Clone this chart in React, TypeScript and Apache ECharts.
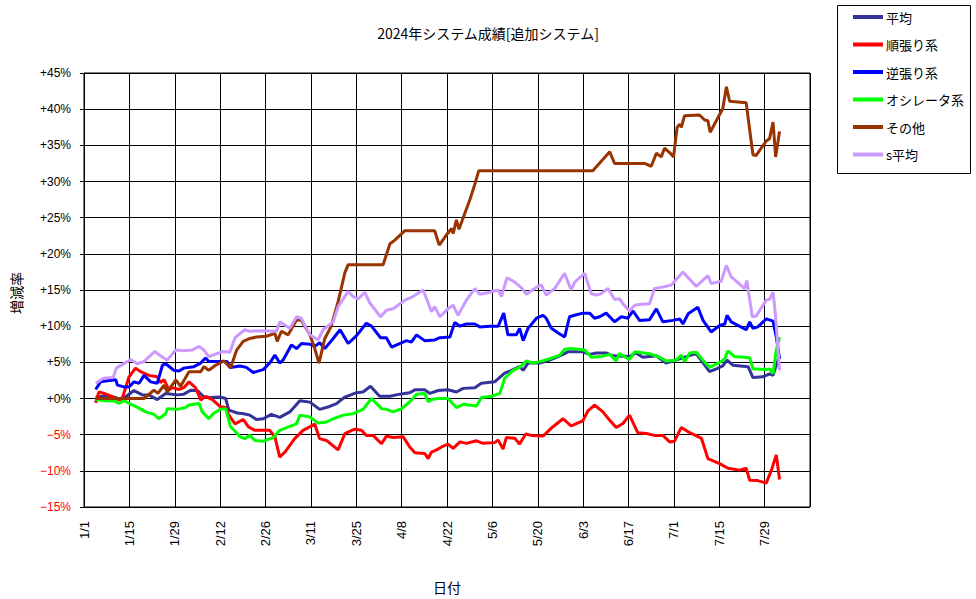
import React, { useEffect, useRef } from "react";
import * as echarts from "echarts";

// x values are days counted from 2024-01-01 (day 0 = 1/1)
const titleText = "2024年システム成績[追加システム]";
const seriesNames = ["平均", "順張り系", "逆張り系", "オシレータ系", "その他", "s平均"];
const seriesColors = ["#333399", "#ff0000", "#0000ff", "#00ff00", "#993300", "#cc99ff"];

const heikin: number[][] = [
  [3.6,0.2],[6,0.3],[9.8,0.15],[10.8,-0.2],[12.8,0.2],[15.4,1.1],[18,0.5],[20,0.5],[22.6,-0.15],[25.2,0.7],[28.8,0.5],[30.8,0.6],[32.9,1.15],[35,1.1],[37,0.2],[39,0.15],[42,0.2],[43.7,0],[44.7,-1.6],[47.3,-2.0],[49.3,-2.1],[51.2,-2.3],[53.2,-2.9],[55.3,-2.8],[57.8,-2.2],[60.4,-2.6],[63.5,-1.85],[66.6,-0.3],[69.7,-0.5],[72.7,-1.5],[75.8,-1.1],[77.9,-0.7],[80.5,0.2],[84.1,0.8],[86.1,0.9],[88.4,1.7],[91.2,0.3],[94.4,0.3],[97.4,0.6],[100.5,0.8],[102.1,1.2],[105.1,1.2],[106.7,0.7],[109.3,1.1],[112.3,1.2],[114.9,0.9],[117,1.4],[120.6,1.5],[122.6,2.1],[126.7,2.3],[129.8,3.5],[131.9,3.9],[134.4,4.4],[135.5,3.9],[137,4.9],[140.6,4.9],[143.7,5.3],[147.3,6.0],[149.3,6.45],[153.9,6.45],[156,6.1],[158.1,6.3],[161.1,6.3],[163.2,5.9],[168.3,5.8],[170.4,6.3],[172.4,5.7],[176.6,5.9],[179.6,4.9],[182.7,5.3],[184.8,5.65],[188.9,6.2],[193,3.7],[195.1,4.1],[197.1,4.5],[198.4,5.3],[200.2,4.6],[204.9,4.4],[206.4,2.9],[209.5,3.0],[211.5,3.4],[212.6,3.2],[214.1,5.3],[214.6,5.8]
];

const junbari: number[][] = [
  [3.6,-0.6],[4.6,0.9],[6.2,0.7],[9.2,0.2],[10.8,-0.15],[11.8,0],[13.9,3.0],[15.9,4.2],[17.5,3.7],[20,3.2],[22.6,3.0],[23.6,2.2],[24.7,2.6],[26.2,1.15],[27.2,1.5],[29.3,1.25],[30.8,1.5],[32.4,2.3],[34.4,1.5],[36,-0.2],[37.5,0.3],[39.6,-0.15],[42.1,-1.15],[43.7,-1.25],[44.7,-2.3],[46.6,-3.5],[49.1,-2.9],[50.7,-3.9],[52.7,-4.4],[57.3,-4.4],[58.9,-5.3],[60.4,-8.1],[62,-7.4],[65,-5.55],[67.6,-4.4],[71.2,-3.55],[72.7,-5.55],[74.8,-5.8],[78.4,-7.1],[80.5,-4.85],[83.5,-4.25],[85.6,-4.4],[87.1,-5.1],[89.2,-5.1],[91.8,-6.25],[93.3,-5.2],[95.4,-5.4],[98.5,-5.3],[100.5,-6.7],[102.1,-7.5],[105.1,-7.6],[106.2,-8.3],[107.2,-7.4],[108.8,-7.1],[110.3,-6.7],[112.3,-6.3],[113.9,-6.9],[116,-6.0],[118,-6.2],[121.1,-5.85],[123.1,-6.2],[126.7,-6.1],[127.8,-5.75],[129.3,-7.0],[130.3,-5.4],[132.9,-5.5],[134.4,-6.3],[136.3,-4.9],[138,-5.1],[141.6,-5.2],[144.7,-3.9],[147.8,-2.8],[150.3,-3.8],[153.9,-3.1],[155.5,-1.7],[157.5,-0.9],[160.1,-1.85],[162.2,-3.0],[164.2,-4.0],[166.3,-3.45],[168.3,-2.3],[170.9,-4.75],[173.5,-4.85],[176,-5.1],[178.6,-5.1],[180.7,-6.0],[182.2,-5.9],[184.3,-4.0],[186.4,-4.6],[190.5,-5.5],[192.5,-8.3],[196.1,-9.0],[198.7,-9.65],[202.3,-9.9],[204.3,-9.65],[205.4,-11.3],[207.9,-11.35],[210.5,-11.7],[212.1,-9.9],[213.6,-7.8],[214.6,-11.2]
];

const gyakubari: number[][] = [
  [3.6,1.25],[5.1,2.3],[7.2,2.45],[9.8,2.6],[10.3,1.85],[12.3,1.6],[13.9,1.6],[15.4,2.3],[17,2.1],[18.5,3.2],[20.6,2.3],[22.6,2.1],[24.2,4.6],[25.2,4.8],[27.7,3.9],[29.3,3.8],[30.8,4.2],[33.9,4.4],[36,4.9],[37.5,5.6],[38.5,5.1],[41.1,5.1],[44.2,5.1],[45.2,4.3],[48.1,4.5],[50.1,4.3],[52.2,3.6],[55.3,4.0],[57.3,4.9],[58.9,6.0],[60.4,4.9],[61.4,5.3],[64,7.4],[65.6,6.9],[67.1,7.6],[69.7,7.5],[71.2,7.2],[72.7,7.7],[74.3,6.9],[76.9,8.3],[79,9.5],[81.5,7.6],[84.1,8.7],[87.1,10.4],[88.7,10.0],[91.5,8.4],[93.3,8.4],[94.9,7.1],[97.4,7.6],[99.5,8.0],[101,7.8],[102.6,8.8],[105.1,8.0],[108.2,8.1],[109.8,8.4],[112.9,8.5],[114.4,10.5],[116,10.0],[118,10.3],[120.6,10.3],[122.1,9.9],[125.2,10.0],[127.8,10.0],[129.5,11.8],[130.8,8.8],[133.4,8.8],[134.4,9.7],[135.5,8.0],[137,9.7],[139.6,11.1],[141.6,11.5],[142.6,11.1],[144.2,9.7],[146.2,9.1],[148.3,8.5],[149.8,11.3],[151.4,11.5],[153.9,11.8],[156,11.8],[157.5,11.1],[159.1,11.3],[161.1,11.8],[163.7,10.6],[165.8,11.3],[167.8,11.1],[169.4,12.1],[171.4,10.8],[174.5,10.9],[176.6,12.4],[178.6,10.6],[181.7,10.8],[183.8,11.0],[184.8,10.3],[186.4,11.7],[189.4,12.6],[191,10.8],[193.5,9.2],[196.1,10.1],[197.7,10.3],[198.4,11.5],[199.7,10.6],[204.3,9.5],[205.4,10.6],[206.4,9.7],[207.9,9.9],[210.5,11.0],[212.6,10.7],[213.6,8.5],[214.6,5.5]
];

const oscillator: number[][] = [
  [3.6,-0.15],[6.2,-0.3],[9.2,-0.3],[10.8,-0.7],[12.3,-0.3],[14.9,-0.9],[16.4,-1.2],[19,-1.85],[21.6,-2.2],[23.1,-2.8],[25.2,-2.1],[25.7,-1.4],[28.8,-1.5],[31.3,-1.25],[32.4,-0.9],[35.5,-0.7],[36.5,-1.85],[38.5,-2.8],[40.1,-2.0],[42.1,-1.5],[43.7,-1.4],[45.2,-3.9],[46.8,-4.6],[48.1,-5.3],[49.6,-5.55],[51.2,-5.1],[52.7,-5.8],[55.3,-5.9],[58.4,-5.4],[60.4,-4.4],[63.5,-3.85],[65.6,-3.5],[66.6,-2.3],[69.7,-2.55],[72.2,-3.4],[74.8,-3.25],[76.9,-2.8],[80,-2.3],[83,-2.1],[86.1,-1.5],[88.7,0],[91.8,-1.4],[93.3,-1.5],[95.4,-1.85],[98,-1.4],[100.5,-0.45],[102.6,0.6],[105.1,0.7],[106.2,-0.45],[107.2,-0.15],[109.3,0],[112.3,0],[114.9,-1.25],[117,-0.8],[121.1,-1.05],[122.6,0.15],[125.7,0.3],[128.3,0.7],[129.8,2.8],[132.4,3.9],[134.4,4.3],[136.5,5.2],[138.5,4.9],[140.6,5.1],[143.7,5.5],[146.8,6.0],[148.3,6.8],[150.3,6.9],[154.5,6.7],[156.5,5.7],[159.6,5.8],[162.2,6.1],[164.2,5.2],[165.2,6.2],[168.3,5.4],[169.9,6.45],[174.5,6.2],[177.6,5.7],[179.6,5.2],[182.7,5.3],[184.3,6.0],[185.3,5.1],[186.9,6.3],[188.9,6.4],[191,5.3],[193,4.3],[196.6,5.1],[197.7,5.5],[198.7,6.6],[200.7,5.8],[205.4,5.65],[206.4,4.1],[210.5,4.0],[211.5,4.1],[212.6,3.45],[213.6,6.7],[214.6,8.5]
];

const sonota: number[][] = [
  [3.6,0],[18.5,0],[21.6,1.15],[22.8,0.7],[24.7,1.85],[25.7,0.9],[28.3,2.55],[29.8,1.7],[32.4,3.7],[36,3.7],[37,4.4],[38.5,3.9],[40.6,4.6],[43.2,5.2],[45.2,4.2],[47.1,6.7],[49.1,7.9],[51.2,8.3],[53.2,8.5],[56.3,8.6],[58.9,9.0],[59.6,7.9],[60.9,9.3],[63,8.8],[65.6,10.9],[67.1,10.8],[69.7,8.8],[71.2,6.9],[72.5,4.9],[74.3,8.3],[76.3,10.0],[78.4,13.4],[80.5,17.4],[81.5,18.5],[92.3,18.5],[94.4,21.4],[95.9,21.9],[99,23.2],[108.2,23.2],[109.6,21.2],[111.8,22.6],[113.4,23.5],[113.9,22.8],[114.9,24.7],[115.7,23.4],[117.5,25.6],[119,27.4],[120.5,29.5],[121.8,31.5],[157,31.5],[162.2,34.1],[163.7,32.5],[173,32.5],[175,32.1],[176.6,33.9],[178.1,33.4],[179.1,34.6],[180.7,34.0],[181.9,33.4],[183,37.5],[183.8,37.9],[184.3,37.5],[185.3,39.1],[189.9,39.2],[191.5,38.5],[192.5,38.4],[193.2,36.8],[197.1,40.1],[198.2,43.1],[199.2,41.1],[204.3,40.9],[206.4,33.7],[207.4,33.6],[210.5,35.6],[211.5,35.9],[212.6,38.2],[213.4,33.4],[214.6,36.9]
];

const sHeikin: number[][] = [
  [3.6,2.1],[6,2.8],[9,2.9],[10,4.2],[14.4,5.4],[16.4,4.8],[18.5,5.1],[21.8,6.5],[23.6,5.9],[25.7,5.3],[28.3,6.7],[30.8,6.6],[33.4,6.7],[35.5,7.2],[37,6.7],[38.5,5.8],[41,6.2],[43,6.5],[45,6.4],[46.6,8.4],[49.6,9.5],[51,9.3],[54,9.35],[59.4,9.3],[60.4,10.6],[63.5,9.7],[65.6,11.3],[67,11.1],[69.7,8.8],[72.2,8.1],[73.8,9.5],[76.9,10.6],[78.4,12.7],[81.5,14.8],[83,14.1],[84.6,13.75],[86.6,14.7],[88.2,13.2],[91.5,11.3],[93.3,12.2],[95.4,12.4],[99,13.6],[101.5,14.1],[104.6,15.0],[105.7,13.8],[107.2,12.0],[108.2,12.7],[109.8,11.3],[112.3,12.4],[113.9,12.9],[115.4,11.5],[118,13.6],[120.6,15.2],[122.1,14.4],[125.2,14.7],[127.8,15.0],[128.8,14.1],[130.5,16.7],[132.9,16.1],[135,15.3],[136.5,14.4],[139.6,15.4],[141.1,15.7],[142.6,14.3],[145.2,15.2],[148.3,17.3],[150.3,15.0],[151.4,16.1],[154.5,17.3],[156.5,14.5],[158.1,14.3],[159.6,14.5],[161.7,15.2],[163.7,13.7],[165.2,13.8],[166.3,13.1],[168.3,12.1],[169.9,12.9],[171.4,13.0],[174.5,13.1],[176,15.2],[178.6,15.4],[181.2,15.7],[184.8,17.5],[188.9,15.5],[192.5,17.0],[193.5,15.9],[196.6,16.2],[198.2,18.4],[199.7,16.8],[202.8,15.6],[203.8,15.2],[204.5,16.3],[206.2,11.3],[207.4,11.4],[210.5,13.6],[211.5,13.7],[212.6,14.7],[213.4,11.3],[214.6,3.9]
];

const seriesData = [heikin, junbari, gyakubari, oscillator, sonota, sHeikin];

// axis settings (days since 1/1, 14-day ticks up to 8/12)
const xMin = 0;
const xMax = 224;
const xStep = 14;
const yMin = -15;
const yMax = 45;
const yStep = 5;
const xAxisName = "日付";
const yAxisName = "増減率";

const JP = "'Noto Sans CJK JP', sans-serif";
const NUM = "'Liberation Sans', 'Noto Sans CJK JP', sans-serif";

function dayLabel(d: number): string {
  const dt = new Date(2024, 0, 1 + Math.round(d));
  return `${dt.getMonth() + 1}/${dt.getDate()}`;
}

export default function App() {
  const ref = useRef<HTMLDivElement>(null);
  useEffect(() => {
    if (!ref.current) return;
    const chart = echarts.init(ref.current, undefined, { renderer: "svg" });
    chart.setOption({
      animation: false,
      backgroundColor: "#ffffff",
      title: {
        text: titleText,
        left: "center",
        top: 21,
        textStyle: { fontFamily: JP, fontSize: 14, fontWeight: "normal", color: "#000" },
      },
      legend: {
        data: seriesNames,
        orient: "vertical",
        left: 853,
        top: 10,
        padding: 0,
        itemWidth: 30,
        itemHeight: 4,
        itemGap: 13.5,
        icon: "rect",
        textStyle: { fontFamily: JP, fontSize: 13, color: "#000", padding: [0, 0, 0, -2], lineHeight: 14 },
      },
      graphic: [
        {
          type: "rect",
          shape: { x: 837.5, y: 5.5, width: 133, height: 168 },
          style: { fill: "none", stroke: "#000", lineWidth: 1 },
        },
        {
          type: "text",
          x: 16,
          y: 293,
          rotation: Math.PI / 2,
          style: {
            text: yAxisName,
            fontFamily: JP,
            fontSize: 14,
            fill: "#000",
            align: "center",
            verticalAlign: "middle",
          },
        },
      ],
      grid: {
        left: 84,
        right: 166,
        top: 73,
        bottom: 91,
        show: true,
        borderColor: "#000",
        borderWidth: 1,
        backgroundColor: "#fff",
      },
      xAxis: {
        type: "value",
        min: xMin,
        max: xMax,
        interval: xStep,
        name: xAxisName,
        nameLocation: "middle",
        nameGap: 73,
        nameTextStyle: { fontFamily: JP, fontSize: 14, color: "#000" },
        axisLine: { show: true, lineStyle: { color: "#000", width: 1 } },
        axisTick: { show: false },
        splitLine: { show: true, lineStyle: { color: "#000", width: 1 } },
        axisLabel: {
          rotate: 90,
          margin: 14,
          fontFamily: NUM,
          fontSize: 13,
          color: "#000",
          showMaxLabel: false,
          formatter: (v: number) => dayLabel(v),
        },
      },
      yAxis: {
        type: "value",
        min: yMin,
        max: yMax,
        interval: yStep,
        axisLine: { show: true, lineStyle: { color: "#000", width: 1 } },
        axisTick: { show: true, inside: false, length: 4, lineStyle: { color: "#000", width: 1 } },
        splitLine: { show: true, lineStyle: { color: "#000", width: 1 } },
        axisLabel: {
          margin: 13,
          fontFamily: NUM,
          fontSize: 12,
          color: "#000",
          formatter: (v: number) =>
            v > 0 ? `+${v}%` : v === 0 ? "+0%" : `{neg|−${-v}%}`,
          rich: {
            neg: { color: "#ff0000", fontFamily: NUM, fontSize: 12 },
          },
        },
      },
      series: seriesNames.map((name, i) => ({
        name,
        type: "line",
        data: seriesData[i],
        showSymbol: false,
        symbol: "none",
        smooth: false,
        color: seriesColors[i],
        lineStyle: { width: 3, color: seriesColors[i] },
        z: 2 + i,
      })),
    });
    return () => chart.dispose();
  }, []);
  return (
    <div
      ref={ref}
      style={{ position: "absolute", left: 0, top: 0, width: 976, height: 599 }}
    />
  );
}
